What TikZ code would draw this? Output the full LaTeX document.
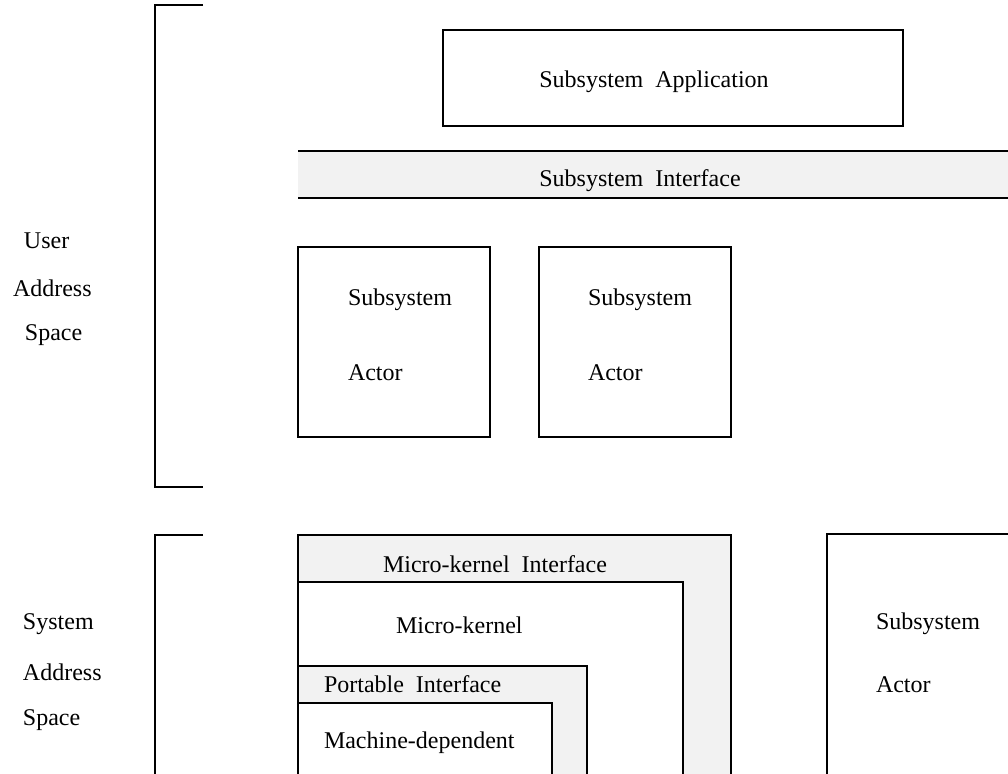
\documentclass[tikz,border=0pt]{standalone}
\usepackage{fontspec}
\setmainfont{Liberation Serif}
\usetikzlibrary{positioning}

\begin{document}
\begin{tikzpicture}[x=0.5pt,y=-0.5pt,line width=1pt]
\tikzstyle{layer} =[fill=gray!10,draw=black]
\tikzstyle{plainbox} =[fill=white,draw=black]
\tikzstyle{lbl} =[inner sep=0pt,font=\fontsize{12}{14}\selectfont]
\useasboundingbox (0,0) rectangle (1008,774);
\clip (0,0) rectangle (1008,774);

% address space brackets
\draw (203,5) -- (155,5) -- (155,487) -- (203,487);
\draw (203,535) -- (155,535) -- (155,790);

\node[lbl,anchor=west](user) at (23,241){User};
\node[lbl,anchor=west](useraddr) at (12,288){Address};
\node[lbl,anchor=west](userspace) at (24,335){Space};

\node[lbl,anchor=west](sys) at (22,624){System};
\node[lbl,anchor=west](sysaddr) at (22,672){Address};
\node[lbl,anchor=west](sysspace) at (22,720){Space};

% user address space
\draw[plainbox] (443,30) rectangle (903,126);
\node[lbl](app) at (654,82){Subsystem~~Application};

\fill[gray!10] (298,151) rectangle (1010,198);
\draw (298,151) -- (1010,151);
\draw (298,198) -- (1010,198);
\node[lbl](subif) at (640,181){Subsystem~~Interface};

\draw[plainbox] (298,247) rectangle (490,437);
\node[lbl,anchor=west](act1a) at (347,300){Subsystem};
\node[lbl,anchor=west](act1b) at (347,373){Actor};

\draw[plainbox] (539,247) rectangle (731,437);
\node[lbl,anchor=west](act2a) at (587,300){Subsystem};
\node[lbl,anchor=west](act2b) at (587,373){Actor};

% system address space
\draw[layer] (298,535) rectangle (731,790);
\draw[plainbox] (298,582) rectangle (683,790);
\draw[layer] (298,666) rectangle (587,790);
\draw[plainbox] (298,703) rectangle (552,790);
\node[lbl](mkif) at (495,564){Micro-kernel~~Interface};
\node[lbl,anchor=west](mk) at (395,625){Micro-kernel};
\node[lbl,anchor=west](portif) at (323,684){Portable~~Interface};
\node[lbl,anchor=west](machdep) at (323,743){Machine-dependent};

\draw[plainbox] (827,534) rectangle (1020,790);
\node[lbl,anchor=west](act3a) at (875,624){Subsystem};
\node[lbl,anchor=west](act3b) at (875,685){Actor};
\end{tikzpicture}
\end{document}
